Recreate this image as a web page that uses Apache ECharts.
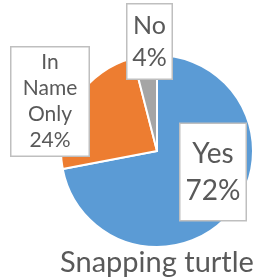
<!DOCTYPE html>
<html><head><meta charset="utf-8">
<script src="https://cdn.jsdelivr.net/npm/echarts@6/dist/echarts.min.js"></script>
<style>html,body{margin:0;padding:0;background:#fff}#c{width:257px;height:277px}</style>
</head><body><div id="c"></div>
<script>
const categories = ['Yes', 'In Name Only', 'No'];
const values = [72, 24, 4];
const colors = ['#5B9BD5', '#ED7D31', '#A5A5A5'];
const chartTitle = 'Snapping turtle';

const labelFont = [28, 21, 25];
const labelLine = [37, 26, 32];
const labelBox = [{w: 65, pv: 11}, {w: 77, pv: 2}, {w: 44, pv: 5}];
const labelPos = [{x: 213, y: 172}, {x: 50, y: 101.5}, {x: 149.5, y: 41.5}];

const chart = echarts.init(document.getElementById('c'), null, {renderer: 'canvas'});
chart.setOption({
  animation: false,
  graphic: [{
    type: 'text',
    style: {text: chartTitle, x: 157, y: 263, textAlign: 'center', textVerticalAlign: 'middle',
      font: '29px Lato', fill: '#595959'}
  }],
  series: [{
    type: 'pie',
    center: [157, 151],
    radius: [0, 96],
    startAngle: 90,
    clockwise: true,
    avoidLabelOverlap: false,
    itemStyle: {borderColor: '#fff', borderWidth: 2},
    labelLine: {show: false},
    label: {
      show: true, position: 'inside', fontFamily: 'Lato', color: '#595959',
      backgroundColor: '#fff', borderColor: '#BFBFBF', borderWidth: 1.5,
      align: 'center',
      formatter: p => p.name.split(' ').join('\n') + '\n' + p.value + '%'
    },
    labelLayout: p => ({x: labelPos[p.dataIndex].x, y: labelPos[p.dataIndex].y, align: 'center', verticalAlign: 'middle'}),
    data: categories.map((c, i) => ({
      name: c, value: values[i], itemStyle: {color: colors[i]},
      label: {fontSize: labelFont[i], lineHeight: labelLine[i], width: labelBox[i].w,
        padding: [labelBox[i].pv, 0, labelBox[i].pv, 0]}
    }))
  }]
});
</script></body></html>
